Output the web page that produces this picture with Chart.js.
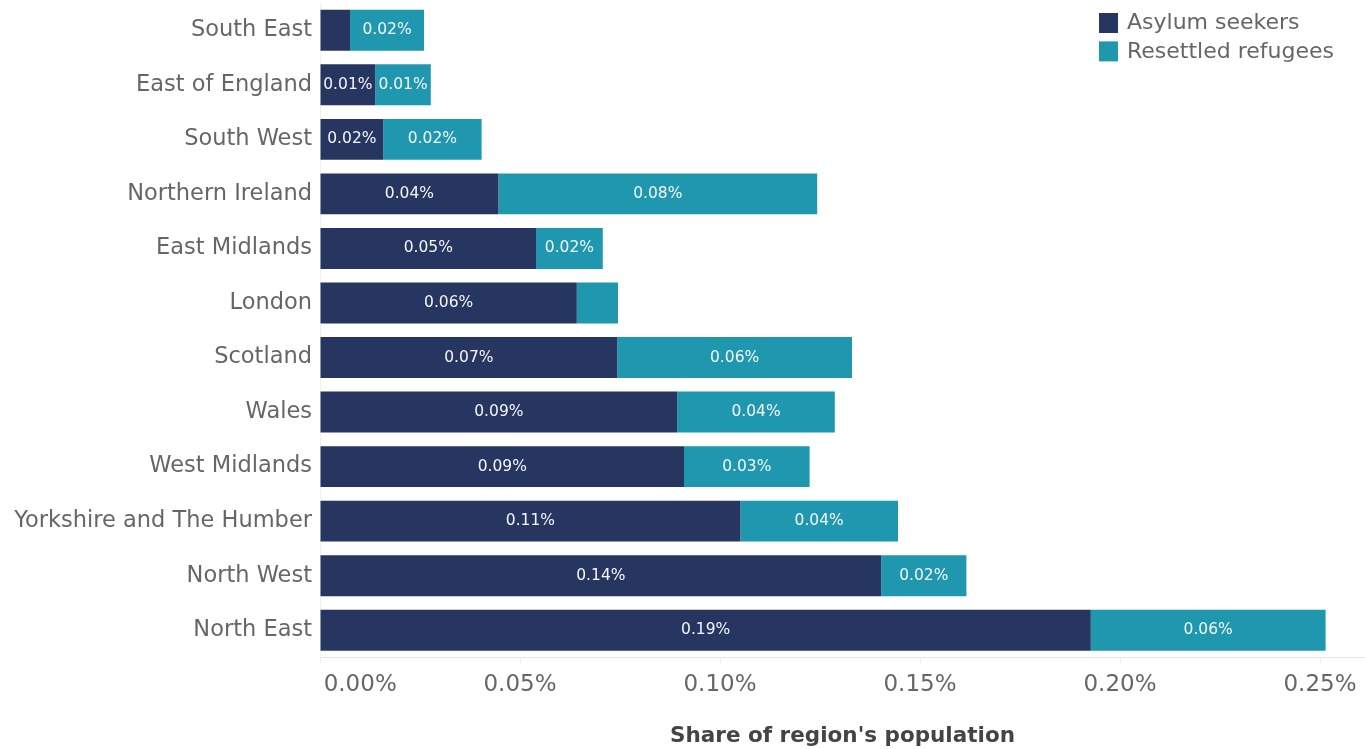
<!DOCTYPE html>
<html>
<head>
<meta charset="utf-8">
<script src="https://cdn.jsdelivr.net/npm/chart.js@4.4.1/dist/chart.umd.min.js"></script>
<style>
  html, body { margin: 0; padding: 0; background: #fff; }
  #wrap { width: 1365px; height: 749px; position: relative; }
</style>
</head>
<body>
<div id="wrap"><canvas id="grafico"></canvas></div>
<script>
// regiones y valores (en % de la población de la región)
const regiones = ['South East', 'East of England', 'South West', 'Northern Ireland', 'East Midlands',
    'London', 'Scotland', 'Wales', 'West Midlands', 'Yorkshire and The Humber', 'North West', 'North East'];
const solicitantesAsilo = [0.0075, 0.0138, 0.0158, 0.0446, 0.054, 0.0642, 0.0743, 0.0893, 0.091, 0.1051, 0.1403, 0.1927];
const refugiadosReasentados = [0.0185, 0.0139, 0.0246, 0.0797, 0.0167, 0.0103, 0.0587, 0.0394, 0.0314, 0.0394, 0.0213, 0.0587];
const ticksX = [0, 0.05, 0.10, 0.15, 0.20, 0.25];
const nombresSeries = ['Asylum seekers', 'Resettled refugees'];
const colores = ['#263660', '#1f98af'];

Chart.defaults.font.family = "'DejaVu Sans', Verdana, sans-serif";

// etiquetas blancas dentro de cada segmento
const etiquetasBarras = {
    id: 'etiquetasBarras',
    afterDatasetsDraw(chart) {
        const ctx = chart.ctx;
        ctx.save();
        ctx.font = "15.5px 'DejaVu Sans'";
        ctx.fillStyle = '#f4f6f8';
        ctx.textAlign = 'center';
        ctx.textBaseline = 'middle';
        chart.data.datasets.forEach((ds, i) => {
            chart.getDatasetMeta(i).data.forEach((bar, j) => {
                const p = bar.getProps(['x', 'y', 'base'], true);
                const ancho = Math.abs(p.x - p.base);
                const texto = ds.data[j].toFixed(2) + '%';
                if (ctx.measureText(texto).width + 4 < ancho) {
                    ctx.fillText(texto, (p.x + p.base) / 2, p.y);
                }
            });
        });
        ctx.restore();
    }
};

// leyenda arriba a la derecha, dentro del área del gráfico
const leyenda = {
    id: 'leyenda',
    afterDraw(chart) {
        const ctx = chart.ctx;
        ctx.save();
        ctx.font = "22px 'DejaVu Sans'";
        ctx.textBaseline = 'middle';
        ctx.textAlign = 'left';
        chart.data.datasets.forEach((ds, i) => {
            const y = 13 + i * 28.4;
            ctx.fillStyle = ds.backgroundColor;
            ctx.fillRect(1099, y, 19, 20);
            ctx.fillStyle = '#666666';
            ctx.fillText(ds.label, 1127, y + 10.5);
        });
        ctx.restore();
    }
};

new Chart(document.getElementById('grafico'), {
    type: 'bar',
    data: {
        labels: regiones,
        datasets: [{
            label: nombresSeries[0],
            data: solicitantesAsilo,
            backgroundColor: colores[0],
            borderWidth: 0
        }, {
            label: nombresSeries[1],
            data: refugiadosReasentados,
            backgroundColor: colores[1],
            borderWidth: 0
        }]
    },
    options: {
        indexAxis: 'y',
        responsive: true,
        maintainAspectRatio: false,
        animation: false,
        categoryPercentage: 1,
        barPercentage: 0.75,
        layout: { padding: { top: 3, right: 0, bottom: 0, left: 0 } },
        plugins: {
            legend: { display: false },
            tooltip: { enabled: false }
        },
        scales: {
            x: {
                stacked: true,
                min: 0,
                max: 0.26125,
                afterFit: s => { s.height = 91.5; },
                afterBuildTicks: s => { s.ticks = ticksX.map(v => ({ value: v })); },
                grid: { drawOnChartArea: false, drawTicks: true, tickLength: 6, tickColor: '#eeeeee' },
                border: { color: '#e4e4e8', width: 1 },
                ticks: {
                    color: '#666666',
                    font: { size: 23 },
                    padding: 8,
                    autoSkip: false,
                    maxRotation: 0,
                    includeBounds: false,
                    callback: v => (v === 0 ? '           ' : '') + v.toFixed(2) + '%'
                },
                title: {
                    display: true,
                    text: "Share of region's population",
                    color: '#444444',
                    font: { size: 21.5, weight: 'bold' },
                    padding: { top: 0, bottom: 0 }
                }
            },
            y: {
                stacked: true,
                afterFit: s => { s.width = 320; s.paddingTop = 0; s.paddingBottom = 0; },
                grid: { display: false, drawTicks: false },
                border: { color: '#f0f0f0', width: 1 },
                ticks: {
                    color: '#666666',
                    font: { size: 22.5 },
                    padding: 8,
                    autoSkip: false
                }
            }
        }
    },
    plugins: [etiquetasBarras, leyenda]
});
</script>
</body>
</html>
